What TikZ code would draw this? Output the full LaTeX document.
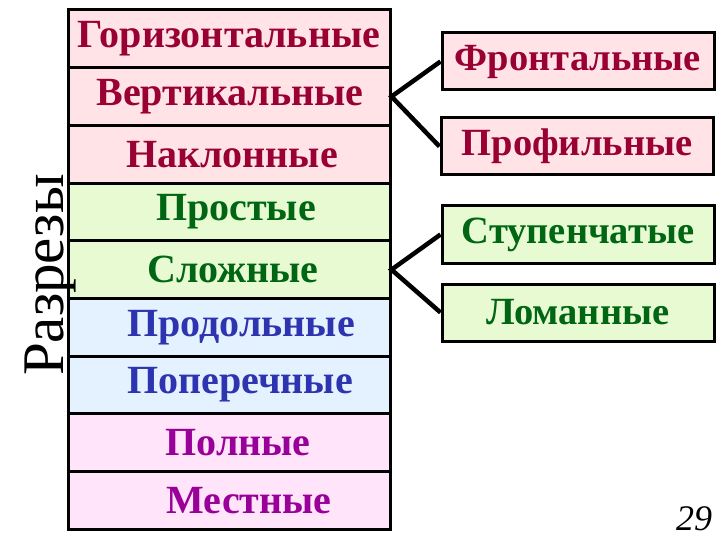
\documentclass[tikz,border=0pt]{standalone}
\usepackage{fontspec}
\setmainfont{Liberation Serif}
\definecolor{pinkF}{HTML}{FFE3E6}
\definecolor{pinkT}{HTML}{990033}
\definecolor{greenF}{HTML}{E8FAD2}
\definecolor{greenT}{HTML}{006614}
\definecolor{blueF}{HTML}{E4F2FF}
\definecolor{blueT}{HTML}{2E33B0}
\definecolor{violF}{HTML}{FFE4FA}
\definecolor{violT}{HTML}{990099}
\newcommand{\shifttext}[2]{\hspace*{#1}#2}
\tikzset{
  rowbox/.style={draw=black, line width=3pt, minimum width=322pt, minimum height=57.7pt, inner sep=0pt, font=\fontsize{40}{42}\selectfont\bfseries},
  sidebox/.style={draw=black, line width=3pt, minimum width=272pt, minimum height=57pt, inner sep=0pt, font=\fontsize{38.5}{40}\selectfont\bfseries},
  pinkrow/.style={fill=pinkF, text=pinkT},
  greenrow/.style={fill=greenF, text=greenT},
  bluerow/.style={fill=blueF, text=blueT},
  violrow/.style={fill=violF, text=violT},
  conn/.style={draw=black, line width=4.5pt, line join=miter}
}
\begin{document}
\begin{tikzpicture}[x=1pt,y=-1pt]
\useasboundingbox (0,0) rectangle (720,540);
\fill[white] (0,0) rectangle (720,540);
\node[rowbox,pinkrow]   (r1) at (229, 38.85)  {Горизонтальные};
\node[rowbox,pinkrow]   (r2) at (229, 96.55)  {\shifttext{2pt}{Вертикальные}};
\node[rowbox,pinkrow]   (r3) at (229, 154.25) {\shifttext{6pt}{Наклонные}};
\node[rowbox,greenrow]  (r4) at (229, 211.95) {\shifttext{14pt}{Простые}};
\node[rowbox,greenrow]  (r5) at (229, 269.65) {\shifttext{8pt}{Сложные}};
\node[rowbox,bluerow]   (r6) at (229, 327.35) {\shifttext{24pt}{Продольные}};
\node[rowbox,bluerow]   (r7) at (229, 385.05) {\shifttext{22pt}{Поперечные}};
\node[rowbox,violrow]   (r8) at (229, 442.75) {\shifttext{18pt}{Полные}};
\node[rowbox,violrow]   (r9) at (229, 500.45) {\shifttext{40pt}{Местные}};
\node[sidebox,pinkrow]  (f) at (578, 61.5)  {Фронтальные};
\node[sidebox,pinkrow]  (p) at (577, 146.5) {Профильные};
\node[sidebox,greenrow] (s) at (578, 234.5) {Ступенчатые};
\node[sidebox,greenrow] (l) at (578, 312.5) {Ломанные};
\node[rotate=90, font=\fontsize{59}{60}\selectfont] (title) at (50, 275) {Разрезы};
\node[font=\fontsize{36}{38}\selectfont\itshape] (num) at (694, 519) {29};
\draw[conn] (f.west) -- (r2.east) -- (p.west);
\draw[conn] (s.west) -- (r5.east) -- (l.west);
\end{tikzpicture}
\end{document}
